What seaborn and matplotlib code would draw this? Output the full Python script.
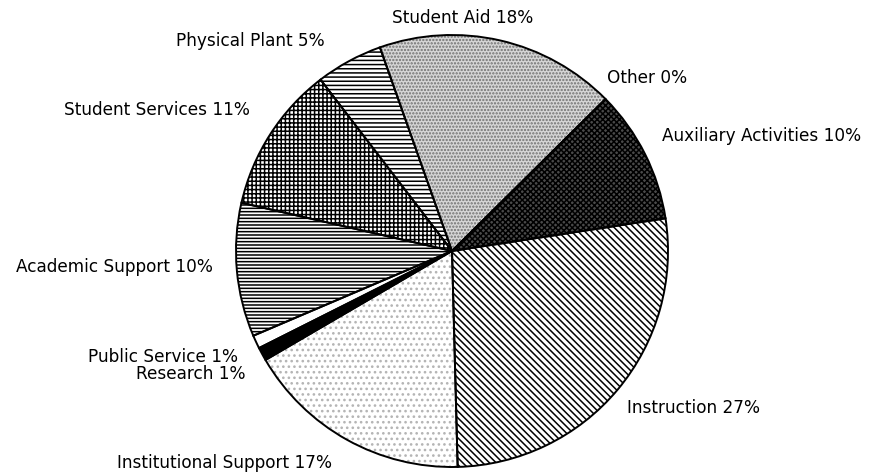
import matplotlib
matplotlib.use("Agg")
import matplotlib.pyplot as plt
import seaborn as sns

# Expenditure shares by function (percent)
categories = ["Instruction", "Auxiliary Activities", "Other", "Student Aid",
              "Physical Plant", "Student Services", "Academic Support",
              "Public Service", "Research", "Institutional Support"]
shares = [27, 10, 0, 18, 5, 11, 10, 1, 1, 17]

# Fill style for each wedge: face colour, hatch pattern, hatch colour
faces = ["white", "#4a4a4a", "white", "#d6d6d6", "white", "white", "white",
         "white", "black", "white"]
hatches = ["\\\\\\\\\\", "xxxxxx", "", ".....", "----", "++++", "-----",
           "", "", "..."]
hatch_colors = ["black", "black", "black", "#707070", "black", "black",
                "black", "black", "black", "#b4b4b4"]

# Label anchors (data units, pie radius = 1) and alignment
label_pos = [(1.12, -0.722), (1.431, 0.537), (0.903, 0.806), (0.051, 1.083),
             (-0.935, 0.977), (-1.366, 0.657), (-1.565, -0.069),
             (-0.99, -0.486), (-0.958, -0.565), (-1.051, -0.977)]
label_ha = ["center", "center", "center", "center", "center", "center",
            "center", "right", "right", "center"]

sns.set_theme(style="white")
plt.rcParams["font.family"] = ["DejaVu Sans"]
plt.rcParams["hatch.linewidth"] = 1.1

W, H = 869, 477
fig = plt.figure(figsize=(W / 100, H / 100), dpi=100)
fig.patch.set_facecolor("white")
cx, cy, r = 452, 252, 216
ax = fig.add_axes([(cx - r) / W, (H - cy - r) / H, 2 * r / W, 2 * r / H])

labels = [f"{c} {v}%" for c, v in zip(categories, shares)]
start = -88.5

# Filled, hatched wedges
wedges, texts = ax.pie(shares, labels=labels, startangle=start,
                       counterclock=True, radius=1,
                       wedgeprops=dict(linewidth=0))
for w, fc, h, hc in zip(wedges, faces, hatches, hatch_colors):
    w.set_facecolor(fc)
    w.set_edgecolor(hc)
    w.set_hatch(h)

# Black outlines on top
outl, _ = ax.pie(shares, startangle=start, counterclock=True, radius=1,
                 wedgeprops=dict(fill=False, edgecolor="black", linewidth=1.4))

ax.set_xlim(-1, 1)
ax.set_ylim(-1, 1)
ax.set_aspect("equal")
ax.axis("off")

for t, (x, y), ha in zip(texts, label_pos, label_ha):
    t.set_position((x, y))
    t.set_ha(ha)
    t.set_va("center")
    t.set_fontsize(12.2)
    t.set_color("black")

fig.savefig("out.png", dpi=100, facecolor="white")
